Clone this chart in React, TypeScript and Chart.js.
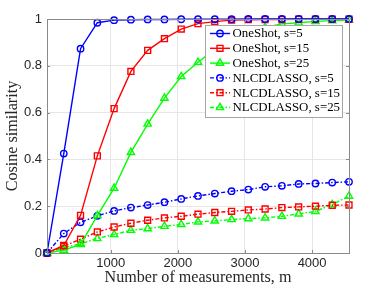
import React, { useEffect, useRef } from 'react';
import { Chart, registerables } from 'chart.js';

Chart.register(...registerables);

const measurements = [50, 300, 550, 800, 1050, 1300, 1550, 1800, 2050, 2300, 2550, 2800, 3050, 3300, 3550, 3800, 4050, 4300, 4550];
const oneShotS5 = [0, 0.425, 0.873, 0.984, 0.995, 0.997, 0.998, 0.998, 0.999, 0.999, 0.999, 0.999, 1, 1, 1, 1, 1, 1, 1];
const oneShotS15 = [0, 0.032, 0.161, 0.415, 0.617, 0.776, 0.866, 0.916, 0.957, 0.98, 0.989, 0.995, 0.997, 0.998, 0.998, 0.999, 0.999, 0.999, 0.999];
const oneShotS25 = [0, 0.012, 0.037, 0.16, 0.277, 0.43, 0.551, 0.662, 0.754, 0.815, 0.87, 0.91, 0.945, 0.965, 0.979, 0.984, 0.99, 0.993, 0.995];
const nlcdS5 = [0, 0.083, 0.131, 0.159, 0.18, 0.194, 0.205, 0.217, 0.231, 0.244, 0.254, 0.264, 0.271, 0.283, 0.287, 0.295, 0.297, 0.301, 0.304];
const nlcdS15 = [0, 0.029, 0.059, 0.09, 0.111, 0.127, 0.14, 0.15, 0.157, 0.166, 0.173, 0.178, 0.184, 0.188, 0.194, 0.197, 0.2, 0.204, 0.205];
const nlcdS25 = [0, 0.023, 0.04, 0.062, 0.079, 0.097, 0.104, 0.114, 0.122, 0.133, 0.137, 0.143, 0.147, 0.15, 0.157, 0.167, 0.178, 0.207, 0.243];

const seriesLabels = ['OneShot, s=5', 'OneShot, s=15', 'OneShot, s=25', 'NLCDLASSO, s=5', 'NLCDLASSO, s=15', 'NLCDLASSO, s=25'];
const seriesValues = [oneShotS5, oneShotS15, oneShotS25, nlcdS5, nlcdS15, nlcdS25];
const xTicks = [1000, 2000, 3000, 4000];
const yTicks = [0, 0.2, 0.4, 0.6, 0.8, 1];
const xTitle = 'Number of measurements, m';
const yTitle = 'Cosine similarity';

const colors = ['#0000ff', '#ff0000', '#00ff00', '#0000ff', '#ff0000', '#00ff00'];
const markers = ['circle', 'rect', 'triangle', 'circle', 'rect', 'triangle'];
const radii: Record<string, number> = { circle: 3.2, rect: 4.2, triangle: 4.2 };
const DASHDOT = [4, 2, 1.5, 2];
const SERIF = '"Liberation Serif"';

const AXIS_COLOR = '#8a8a8a';

function fitSize(text: string, target: number): number {
  const c = document.createElement('canvas').getContext('2d')!;
  c.font = `20px ${SERIF}`;
  const w = c.measureText(text).width;
  return Math.round((20 * target / w) * 10) / 10;
}

function drawMarker(ctx: CanvasRenderingContext2D, style: string, r: number, x: number, y: number) {
  ctx.beginPath();
  if (style === 'circle') {
    ctx.arc(x, y, r, 0, Math.PI * 2);
  } else if (style === 'rect') {
    const s = Math.SQRT1_2 * r;
    ctx.rect(x - s, y - s, 2 * s, 2 * s);
  } else {
    for (let k = 0; k < 3; k++) {
      const ang = (k * 2 * Math.PI) / 3;
      const px = x + Math.sin(ang) * r;
      const py = y - Math.cos(ang) * r;
      if (k === 0) ctx.moveTo(px, py);
      else ctx.lineTo(px, py);
    }
    ctx.closePath();
  }
  ctx.stroke();
}

function makeBoxPlugin(legendSize: number) {
  return {
    id: 'matlabBox',
    afterDatasetsDraw(chart: any) {
      const { ctx, chartArea: a, scales } = chart;
      ctx.save();
      ctx.strokeStyle = AXIS_COLOR;
      ctx.lineWidth = 1;
      ctx.beginPath();
      const tl = 3;
      for (const v of xTicks) {
        const px = Math.round(scales.x.getPixelForValue(v)) + 0.5;
        ctx.moveTo(px, a.bottom);
        ctx.lineTo(px, a.bottom - tl);
        ctx.moveTo(px, a.top);
        ctx.lineTo(px, a.top + tl);
      }
      for (const v of yTicks) {
        const py = Math.round(scales.y.getPixelForValue(v)) + 0.5;
        ctx.moveTo(a.left, py);
        ctx.lineTo(a.left + tl, py);
        ctx.moveTo(a.right, py);
        ctx.lineTo(a.right - tl, py);
      }
      ctx.stroke();
      ctx.beginPath();
      ctx.rect(Math.round(a.left) + 0.5, Math.round(a.top) + 0.5, Math.round(a.right - a.left), Math.round(a.bottom - a.top));
      ctx.stroke();
      ctx.restore();
    },
    afterDraw(chart: any) {
      const { ctx } = chart;
      const bx = 205.5, by = 25.5, bw = 137, bh = 92;
      ctx.save();
      ctx.fillStyle = '#ffffff';
      ctx.fillRect(bx, by, bw, bh);
      ctx.strokeStyle = '#a6a6a6';
      ctx.lineWidth = 1;
      ctx.strokeRect(bx, by, bw, bh);
      chart.data.datasets.forEach((ds: any, i: number) => {
        const y = 33.5 + i * 14.8;
        ctx.save();
        ctx.strokeStyle = ds.borderColor;
        ctx.lineWidth = ds.borderWidth;
        ctx.setLineDash(ds.borderDash || []);
        ctx.beginPath();
        ctx.moveTo(210, y);
        ctx.lineTo(230, y);
        ctx.stroke();
        ctx.setLineDash([]);
        drawMarker(ctx, ds.pointStyle, ds.pointRadius, 220, y);
        ctx.restore();
        ctx.fillStyle = '#000000';
        ctx.font = `${legendSize}px ${SERIF}`;
        ctx.textBaseline = 'middle';
        ctx.textAlign = 'left';
        ctx.fillText(ds.label, 232.5, y + 0.5);
      });
      ctx.restore();
    },
  };
}

export default function App() {
  const ref = useRef<HTMLCanvasElement>(null);
  useEffect(() => {
    if (!ref.current) return;
    const legendSize = fitSize('NLCDLASSO, s=25', 108);
    const titleSize = fitSize(xTitle, 187);
    const datasets = seriesValues.map((vals, i) => ({
      label: seriesLabels[i],
      data: vals.map((v, j) => ({ x: measurements[j], y: v })),
      borderColor: colors[i],
      backgroundColor: 'transparent',
      pointBackgroundColor: 'transparent',
      pointBorderColor: colors[i],
      borderWidth: 1.4,
      pointBorderWidth: 1.4,
      pointStyle: markers[i],
      pointRadius: radii[markers[i]],
      borderDash: i >= 3 ? DASHDOT : [],
      tension: 0,
      fill: false,
      clip: false,
    }));
    const chart = new Chart(ref.current, {
      type: 'line',
      data: { datasets },
      plugins: [makeBoxPlugin(legendSize)],
      options: {
        animation: false,
        responsive: false,
        maintainAspectRatio: false,
        events: [],
        layout: { padding: { left: 0, right: 34, top: 19, bottom: 0 } },
        plugins: { legend: { display: false }, tooltip: { enabled: false } },
        scales: {
          x: {
            type: 'linear',
            min: 50,
            max: 4550,
            afterBuildTicks: (s: any) => { s.ticks = xTicks.map((v) => ({ value: v })); },
            afterFit: (s: any) => { s.height = 35; },
            grid: { color: '#e6e6e6', drawTicks: false },
            border: { color: AXIS_COLOR },
            ticks: { color: '#262626', font: { family: '"Liberation Sans"', size: 13 }, padding: 3, maxRotation: 0, callback: (v: any) => String(v) },
            title: { display: true, text: xTitle, color: '#262626', font: { family: SERIF, size: titleSize }, padding: { top: 0, bottom: 1 } },
          },
          y: {
            min: 0,
            max: 1,
            afterBuildTicks: (s: any) => { s.ticks = yTicks.map((v) => ({ value: v })); },
            afterFit: (s: any) => { s.width = 47; },
            grid: { color: '#e6e6e6', drawTicks: false },
            border: { color: AXIS_COLOR },
            ticks: { color: '#262626', font: { family: '"Liberation Sans"', size: 13 }, padding: 5, callback: (v: any) => String(v) },
            title: { display: true, text: yTitle, color: '#262626', font: { family: SERIF, size: titleSize }, padding: { top: 3, bottom: 0 } },
          },
        },
      },
    });
    return () => chart.destroy();
  }, []);
  return (
    <div style={{ position: 'fixed', left: 0, top: 0, width: 383, height: 288, background: '#fff' }}>
      <canvas ref={ref} width={383} height={288} style={{ width: 383, height: 288, display: 'block' }} />
    </div>
  );
}
